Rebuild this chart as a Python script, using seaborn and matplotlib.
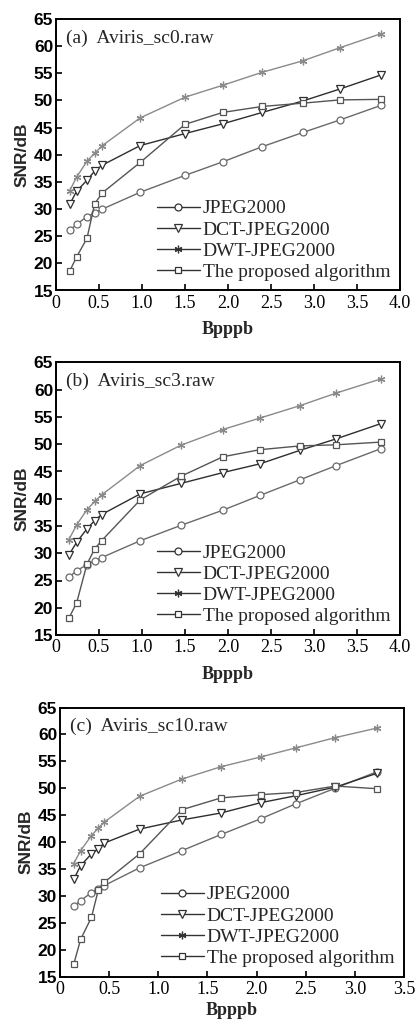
import matplotlib
matplotlib.use("Agg")
import matplotlib.pyplot as plt
import pandas as pd
import seaborn as sns

# ---------------- data ----------------
series_names = ["JPEG2000", "DCT-JPEG2000", "DWT-JPEG2000", "The proposed algorithm"]
panel_titles = ["(a)  Aviris_sc0.raw", "(b)  Aviris_sc3.raw", "(c)  Aviris_sc10.raw"]

x_a = [0.16, 0.24, 0.36, 0.45, 0.54, 0.98, 1.50, 1.94, 2.40, 2.87, 3.30, 3.78]
jpeg_a = [26.1, 27.2, 28.6, 29.3, 30.0, 33.1, 36.2, 38.7, 41.5, 44.1, 46.4, 49.1]
dct_a = [30.9, 33.3, 35.3, 37.0, 38.1, 41.7, 43.9, 45.7, 47.8, 49.9, 52.1, 54.7]
dwt_a = [33.4, 35.9, 38.8, 40.3, 41.7, 46.8, 50.6, 52.8, 55.2, 57.3, 59.7, 62.3]
prop_a = [18.6, 21.2, 24.6, 31.0, 33.0, 38.6, 45.6, 47.8, 48.9, 49.5, 50.1, 50.2]

x_b = [0.15, 0.24, 0.36, 0.45, 0.53, 0.98, 1.45, 1.94, 2.37, 2.84, 3.26, 3.78]
jpeg_b = [25.6, 26.8, 27.9, 28.6, 29.2, 32.3, 35.1, 37.9, 40.6, 43.5, 46.1, 49.2]
dct_b = [29.7, 32.0, 34.5, 36.0, 37.1, 40.9, 42.8, 44.8, 46.4, 48.9, 51.0, 53.8]
dwt_b = [32.5, 35.2, 38.0, 39.5, 40.7, 46.1, 49.8, 52.7, 54.8, 57.1, 59.4, 62.0]
prop_b = [18.1, 20.9, 28.0, 30.8, 32.3, 39.8, 44.1, 47.7, 49.0, 49.7, 49.9, 50.4]

x_c = [0.14, 0.21, 0.32, 0.39, 0.45, 0.81, 1.24, 1.64, 2.04, 2.40, 2.80, 3.23]
jpeg_c = [28.1, 29.1, 30.6, 31.3, 31.9, 35.2, 38.4, 41.4, 44.3, 47.1, 50.0, 53.1]
dct_c = [33.1, 35.6, 37.8, 38.7, 39.8, 42.4, 44.1, 45.4, 47.3, 48.6, 50.2, 52.8]
dwt_c = [36.0, 38.4, 41.2, 42.6, 43.7, 48.5, 51.7, 54.0, 55.8, 57.5, 59.4, 61.2]
prop_c = [17.3, 21.9, 26.0, 31.1, 32.5, 37.8, 46.0, 48.2, 48.8, 49.2, 50.4, 49.9]

x_ticks_ab = [0, 0.5, 1.0, 1.5, 2.0, 2.5, 3.0, 3.5, 4.0]
x_labels_ab = ["0", "0.5", "1.0", "1.5", "2.0", "2.5", "3.0", "3.5", "4.0"]
x_ticks_c = [0, 0.5, 1.0, 1.5, 2.0, 2.5, 3.0, 3.5]
x_labels_c = ["0", "0.5", "1.0", "1.5", "2.0", "2.5", "3.0", "3.5"]
y_ticks = [15, 20, 25, 30, 35, 40, 45, 50, 55, 60, 65]

x_label = "Bpppb"
y_label = "SNR/dB"

# ---------------- style ----------------
sns.set_style("ticks")
plt.rcParams["font.family"] = ["Liberation Serif", "DejaVu Serif"]
plt.rcParams["axes.linewidth"] = 1.4

styles = {
    "JPEG2000": dict(marker="o", color="#6a6a6a", ms=5.0, lw=1.0),
    "DCT-JPEG2000": dict(marker="v", color="#2e2e2e", ms=5.5, lw=1.0),
    "DWT-JPEG2000": dict(marker=(6, 2, 0), color="#8a8a8a", ms=5.5, lw=1.0),
    "The proposed algorithm": dict(marker="s", color="#555555", ms=5.0, lw=1.0),
}

panels = [
    (x_a, [jpeg_a, dct_a, dwt_a, prop_a], x_ticks_ab, x_labels_ab, (0, 4.0), 7),
    (x_b, [jpeg_b, dct_b, dwt_b, prop_b], x_ticks_ab, x_labels_ab, (0, 4.0), 7),
    (x_c, [jpeg_c, dct_c, dwt_c, prop_c], x_ticks_c, x_labels_c, (0, 3.5), 3),
]

W, H = 420, 1021
# axes boxes in pixels: left, top, right, bottom
boxes = [(56, 19, 400, 290.5), (56, 362.5, 400, 635), (60, 707.5, 404, 976.5)]

fig = plt.figure(figsize=(W / 100, H / 100), dpi=100)
fig.patch.set_facecolor("white")

ysans = ["Liberation Sans Narrow", "Liberation Sans", "DejaVu Sans"]

for i, ((xs, ys_list, xt, xtl, xlim, lpad), (l, t, r, b)) in enumerate(zip(panels, boxes)):
    ax = fig.add_axes([l / W, 1 - b / H, (r - l) / W, (b - t) / H])
    for name, ys in zip(series_names, ys_list):
        st = styles[name]
        df = pd.DataFrame({"x": xs, "y": ys})
        sns.lineplot(data=df, x="x", y="y", ax=ax, estimator=None, sort=False,
                     color=st["color"], lw=st["lw"], marker=st["marker"],
                     markersize=st["ms"], markerfacecolor="white",
                     markeredgecolor=st["color"], markeredgewidth=0.9,
                     label=name)
    ax.set_xlim(*xlim)
    ax.set_ylim(15, 65)
    ax.set_xticks(xt)
    ax.set_xticklabels(xtl, fontsize=13)
    ax.set_yticks(y_ticks)
    ax.set_yticklabels([str(v) for v in y_ticks], fontsize=12.5,
                       family=ysans, fontweight="bold")
    ax.tick_params(direction="in", length=4, width=1.2, colors="black", pad=2)
    ax.tick_params(axis="x", pad=3)
    for s in ax.spines.values():
        s.set_visible(True)
        s.set_color("black")
        s.set_linewidth(1.4)
    ax.set_xlabel(x_label, fontsize=13, fontweight="bold", labelpad=lpad)
    ax.set_ylabel(y_label, fontsize=12.5, fontweight="bold", family=ysans, labelpad=3)
    ax.text(0.03, 0.93, panel_titles[i], transform=ax.transAxes,
            fontsize=14, ha="left", va="center")
    leg = ax.legend(loc="lower right", frameon=False, fontsize=14,
                    handlelength=2.2, handletextpad=0.15, labelspacing=0.18,
                    borderaxespad=0.1)
    for h in leg.legend_handles:
        h.set_color("#333333")
        h.set_markeredgecolor("#333333")

fig.savefig("out.png", dpi=100, facecolor="white")
